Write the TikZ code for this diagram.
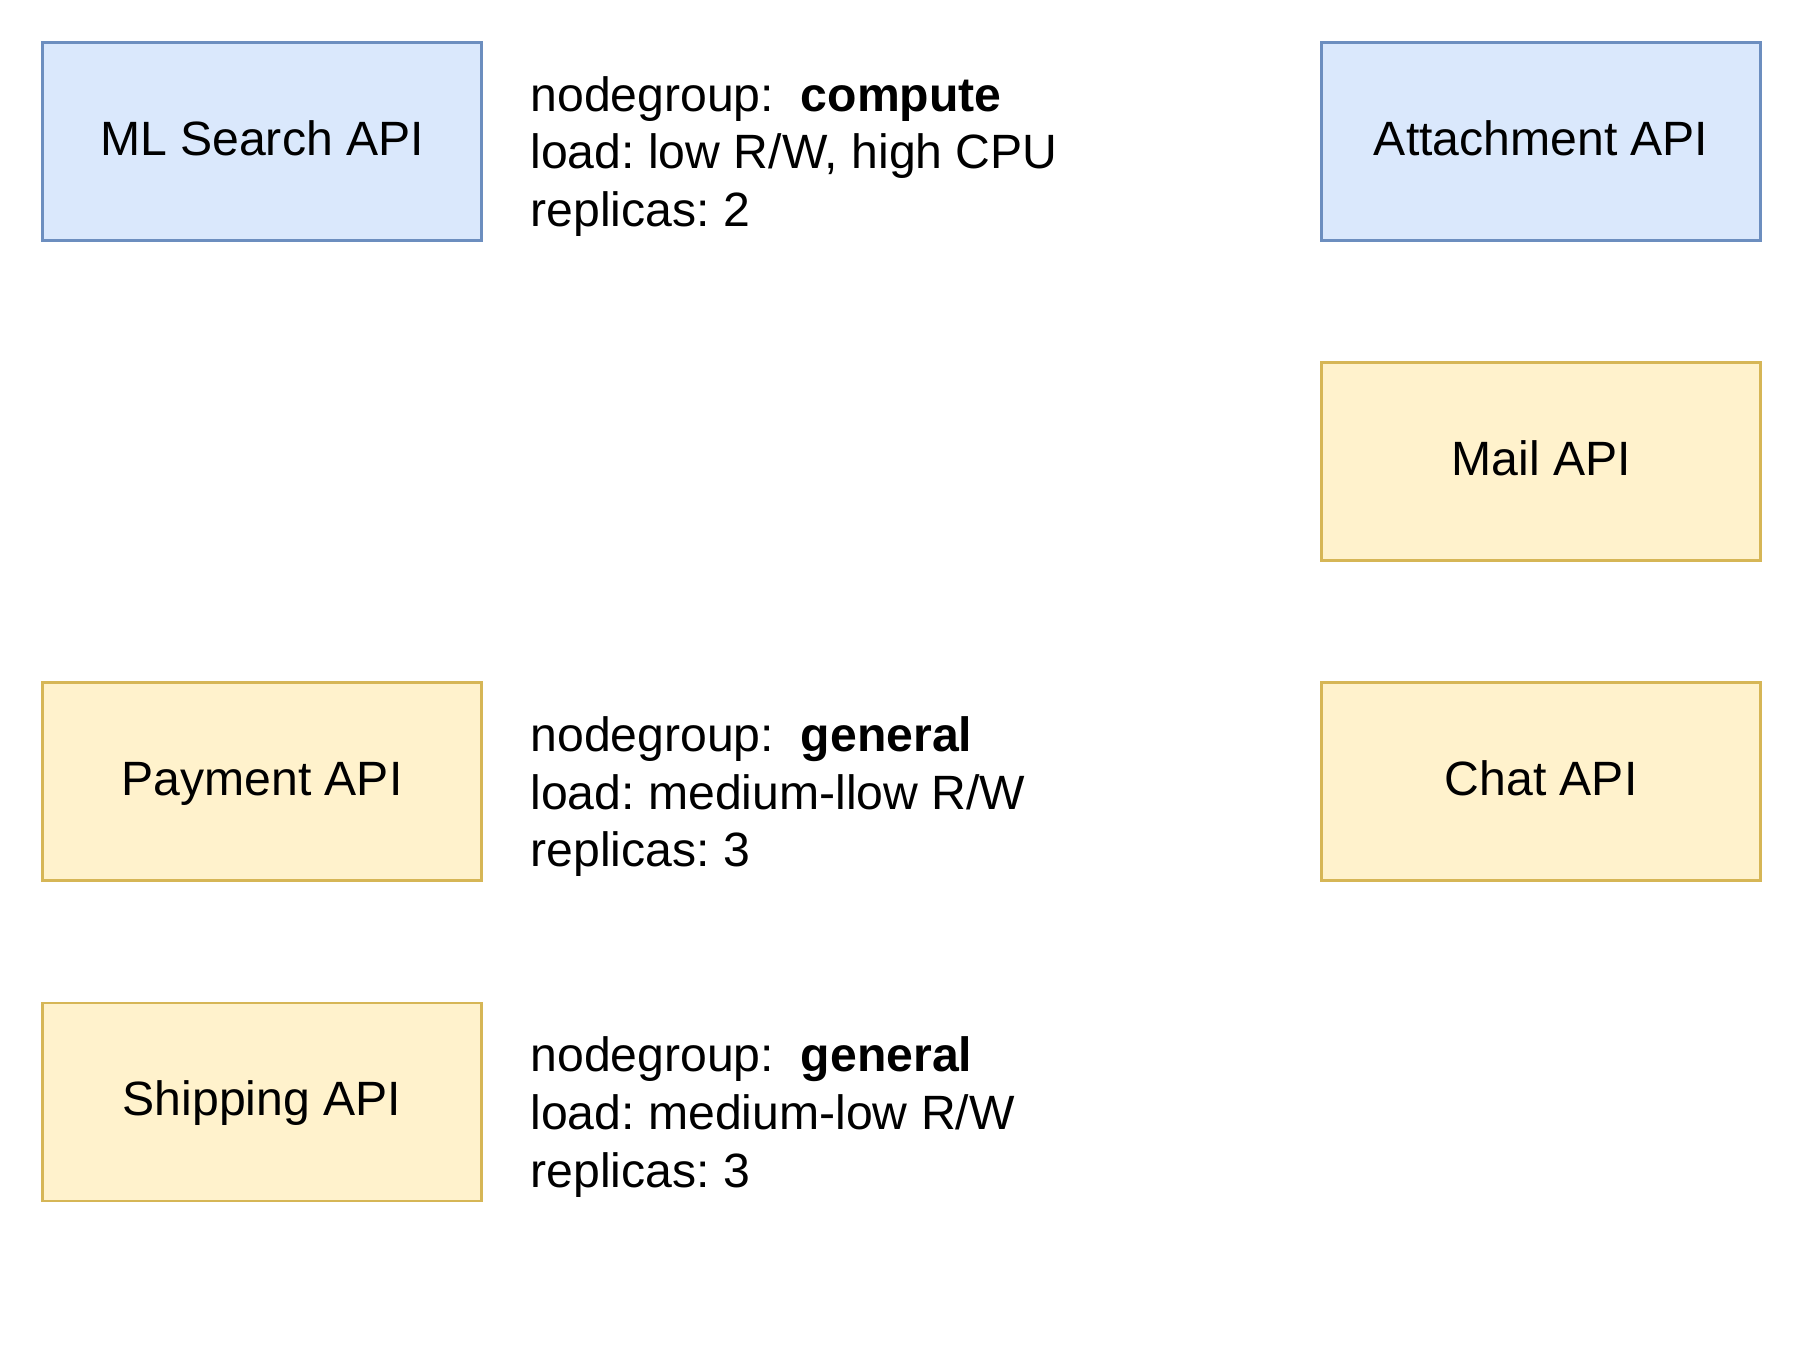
\documentclass[tikz,border=0pt]{standalone}
\usepackage{fontspec}
\setmainfont{Liberation Sans}
\usetikzlibrary{positioning}
\frenchspacing

\begin{document}
\begin{tikzpicture} [node distance=1.195cm,
		% define styles
		bluenodestyle/.style={
			% The shape:
			rectangle,
			% The size:
			minimum width=4.39cm,
			minimum height=1.98cm,
			% The border:
			line width=0.75pt,
			draw={rgb,255:red,108;green,142;blue,191},
			% The filling:
			fill={rgb,255:red,218;green,232;blue,252},
			% Font
			font=\fontsize{13.7pt}{16.4pt}\selectfont,
			text height=1.0em,
			text depth=0.2em
		},
		yellownodestyle/.style={
			bluenodestyle,
			draw={rgb,255:red,214;green,182;blue,86},
			fill={rgb,255:red,255;green,242;blue,204}
		},
		notestyle/.style={
			align=left,
			inner sep=0pt,
			font=\fontsize{13.7pt}{16.4pt}\selectfont
		}]
		% end of style definition
		
		\useasboundingbox (0,0) rectangle (18.04,-13.64);
		
		% draw nodes
		\node (iMLSearch) [bluenodestyle] at (2.62,-1.415) {ML Search API};
		\node (iAttachment) [bluenodestyle, right = 8.375cm of iMLSearch] {Attachment API};
		
		\node (iMail) [yellownodestyle, below = of iAttachment] {Mail API};
		\node (iChat) [yellownodestyle, below = of iMail] {Chat API};
		
		\node (iPayment) [yellownodestyle, left = 8.375cm of iChat] {Payment API};
		\node (iShipping) [yellownodestyle, below = of iPayment] {Shipping API};
		
		% notes next to the boxes
		\node (iComputeNote) [notestyle, right = 0.47cm of iMLSearch, yshift=-0.15cm]
			{nodegroup:\ \ \textbf{compute}\\load: low R/W, high CPU\\replicas: 2};
		\node (iPaymentNote) [notestyle, right = 0.47cm of iPayment, yshift=-0.15cm]
			{nodegroup:\ \ \textbf{general}\\load: medium-llow R/W\\replicas: 3};
		\node (iShippingNote) [notestyle, right = 0.47cm of iShipping, yshift=-0.15cm]
			{nodegroup:\ \ \textbf{general}\\load: medium-low R/W\\replicas: 3};
	\end{tikzpicture}
\end{document}
